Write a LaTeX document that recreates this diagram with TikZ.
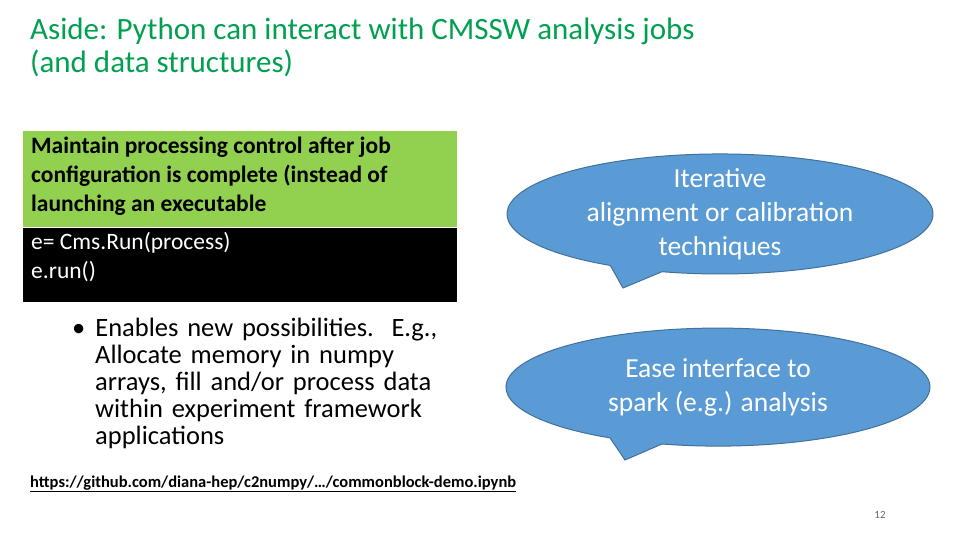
\documentclass[tikz,border=0pt]{standalone}
\usepackage{fontspec}
\setmainfont{Carlito}
\usetikzlibrary{shapes.geometric}
\definecolor{ttl}{RGB}{0,160,80}
\definecolor{grn}{RGB}{146,208,80}
\definecolor{blu}{RGB}{91,155,213}
\definecolor{bluedge}{RGB}{65,113,156}
\tikzset{callout/.style={fill=blu,draw=bluedge,line width=1pt},
ctext/.style={text=white,font=\fontsize{27.5}{34}\selectfont,align=center}}
\begin{document}
\begin{tikzpicture}[x=1pt,y=-1pt]
\useasboundingbox[fill=white] (0,0) rectangle (960,540);
\node[anchor=north west,text=ttl,font=\fontsize{31}{33}\selectfont,align=left,inner sep=0] (title) at (30,18) {Aside: Python can interact with CMSSW analysis jobs\\(and data structures)};
\fill[grn] (23,131) rectangle (457,227);
\node[anchor=north west,font=\bfseries\fontsize{23.5}{29}\selectfont,align=left,inner sep=0] (g) at (31,137) {Maintain processing control after job\\configuration is complete (instead of\\launching an executable};
\fill[black] (23,228) rectangle (457,302);
\node[anchor=north west,text=white,font=\fontsize{23.5}{29}\selectfont,align=left,inner sep=0] (code) at (31,232) {e= Cms.Run(process)\\e.run()};
\node[anchor=north west,font=\fontsize{26.5}{27}\selectfont,align=left,inner sep=0,text width=380] (b) at (72,318) {\textbullet\hspace{10pt}Enables new possibilities.\ \ E.g.,\\\hspace*{23pt}Allocate memory in numpy\\\hspace*{23pt}arrays, fill and/or process data\\\hspace*{23pt}within experiment framework\\\hspace*{23pt}applications};
% callout 1
\draw[callout] (662,271.7) arc[start angle=105.8,end angle=-239,x radius=213,y radius=60] -- (623,288) -- cycle;
\node[ctext] (c1) at (720,214) {Iterative\\alignment or calibration\\techniques};
\draw[callout] (662,444) arc[start angle=105.3,end angle=-239.4,x radius=212,y radius=59] -- (625,460) -- cycle;
\node[ctext] (c2) at (718,387) {Ease interface to\\spark (e.g.) analysis};
\node[anchor=west,font=\bfseries\fontsize{16.5}{18}\selectfont,inner sep=0] (url) at (30,484) {\underline{https://github.com/diana-hep/c2numpy/…/commonblock-demo.ipynb}};
\node[font=\fontsize{11}{13}\selectfont,text=black!60,inner sep=0] (pg) at (880,515) {12};
\end{tikzpicture}
\end{document}
